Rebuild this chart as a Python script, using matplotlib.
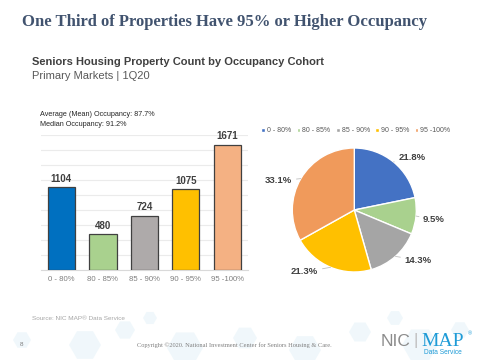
import matplotlib.pyplot as plt
from matplotlib.patches import RegularPolygon
import numpy as np

# data
cohorts = ['0 - 80%', '80 - 85%', '85 - 90%', '90 - 95%', '95 -100%']
counts = [1104, 480, 724, 1075, 1671]
shares = [21.8, 9.5, 14.3, 21.3, 33.1]
bar_colors = ['#0070C0', '#A9D18E', '#AEAAAA', '#FFC000', '#F4B183']
pie_colors = ['#4472C4', '#A9D18E', '#A5A5A5', '#FFC000', '#F09A5B']
mean_occ = 87.7
median_occ = 91.2

fig = plt.figure(figsize=(4.8, 3.6), dpi=100)
fig.patch.set_facecolor('white')

# faint hexagon background along the bottom
bg = fig.add_axes([0, 0, 1, 1], zorder=-10)
bg.set_xlim(0, 480)
bg.set_ylim(360, 0)
bg.axis('off')
for hx, hy, hr in [(85, 345, 16), (125, 330, 10), (185, 348, 18), (245, 338, 12),
                   (305, 350, 16), (360, 332, 11), (420, 345, 18), (22, 340, 9),
                   (395, 318, 8), (150, 318, 7), (460, 330, 9)]:
    bg.add_patch(RegularPolygon((hx, hy), 6, radius=hr, orientation=np.pi / 6,
                                facecolor='#EAF5FA', edgecolor='none', alpha=0.7))

# titles
title = fig.text(22 / 480, 1 - 22 / 360, 'One Third of Properties Have 95% or Higher Occupancy',
                 family='Liberation Serif', fontweight='bold', fontsize=13, color='#41536F',
                 va='center', ha='left')
# shrink title to reference width (~406 px)
fig.canvas.draw()
w = title.get_window_extent().width
title.set_fontsize(13 * 406 / w)

fig.text(32 / 480, 1 - 62 / 360, 'Seniors Housing Property Count by Occupancy Cohort',
         family='Liberation Sans', fontweight='bold', fontsize=8.0, color='#404040',
         va='center', ha='left')
fig.text(32 / 480, 1 - 76 / 360, 'Primary Markets | 1Q20',
         family='Liberation Sans', fontsize=8.0, color='#595959', va='center', ha='left')

# bar chart
ax = fig.add_axes([40.7 / 480, 1 - 270 / 360, 207.3 / 480, 135 / 360])
x = np.arange(len(cohorts))
ax.bar(x, counts, width=0.66, color=bar_colors, edgecolor='#404040', linewidth=0.9, zorder=3)
for xi, c in zip(x, counts):
    ax.text(xi, c + 45, str(c), ha='center', va='bottom', fontsize=7,
            fontweight='bold', color='#404040', family='Liberation Sans')
ax.set_xlim(-0.5, 4.5)
ax.set_ylim(0, 1800)
ax.set_yticks(np.arange(0, 1801, 200))
ax.yaxis.grid(True, color='#EBEBEB', linewidth=0.8, zorder=0)
ax.tick_params(axis='y', left=False, labelleft=False)
ax.set_xticks(x)
ax.set_xticklabels(cohorts, fontsize=5.6, color='#7F7F7F', family='Liberation Sans')
ax.tick_params(axis='x', length=0, pad=4)
for s in ['top', 'right', 'left']:
    ax.spines[s].set_visible(False)
ax.spines['bottom'].set_color('#D9D9D9')

fig.text(40 / 480, 1 - 115 / 360, f'Average (Mean) Occupancy: {mean_occ}%',
         fontsize=5.2, color='#262626', family='Liberation Sans', va='center')
fig.text(40 / 480, 1 - 125 / 360, f'Median Occupancy: {median_occ}%',
         fontsize=5.2, color='#262626', family='Liberation Sans', va='center')

# pie chart
r_px = 62
pax = fig.add_axes([(354.3 - r_px) / 480, 1 - (210 + r_px) / 360, 2 * r_px / 480, 2 * r_px / 360])
wedges, _ = pax.pie(shares, colors=pie_colors, startangle=90, counterclock=False,
                    wedgeprops=dict(edgecolor='white', linewidth=1.0))
pax.set_aspect('equal')
pax.set_xlim(-1, 1)
pax.set_ylim(-1, 1)

label_pos = [(0.71, 0.85), (1.11, -0.16), (0.81, -0.81), (-0.58, -1.0), (-1.0, 0.47)]
for w, (lx, ly), s in zip(wedges, label_pos, shares):
    ang = np.deg2rad((w.theta1 + w.theta2) / 2)
    ex, ey = np.cos(ang), np.sin(ang)
    ha = 'left' if lx > 0 else 'right'
    pax.annotate(f'{s}%', xy=(ex, ey), xytext=(lx, ly), ha=ha, va='center',
                 fontsize=6.8, fontweight='bold', color='#404040', family='Liberation Sans',
                 arrowprops=dict(arrowstyle='-', color='#BFBFBF', lw=0.6,
                                 shrinkA=1, shrinkB=0),
                 annotation_clip=False)

leg = fig.legend(wedges, cohorts, loc='center', bbox_to_anchor=(356 / 480, 1 - 131 / 360),
                 ncol=5, frameon=False, handlelength=0.5, handleheight=0.5,
                 handletextpad=0.3, columnspacing=0.8, prop={'family': 'Liberation Sans', 'size': 5})
for t in leg.get_texts():
    t.set_color('#595959')

# footer
fig.text(32 / 480, 1 - 319 / 360, 'Source: NIC MAP\u00ae Data Service',
         fontsize=4.6, color='#A6A6A6', family='Liberation Sans', va='center')
fig.text(20 / 480, 1 - 345 / 360, '8', fontsize=4.6, color='#7F7F7F',
         family='Liberation Sans', va='center')
fig.text(234 / 480, 1 - 345 / 360,
         'Copyright \u00a92020. National Investment Center for Seniors Housing & Care.',
         fontsize=4.6, color='#7F7F7F', family='Liberation Serif', va='center', ha='center')
fig.text(410 / 480, 1 - 341 / 360, 'NIC', fontsize=12.5, color='#8C8C8C',
         family='Liberation Sans', va='center', ha='right')
fig.text(416 / 480, 1 - 341 / 360, '|', fontsize=12, color='#BFBFBF',
         family='Liberation Sans', va='center', ha='center')
fig.text(421 / 480, 1 - 341 / 360, 'MAP', fontsize=14, color='#1E9BD7',
         family='Liberation Serif', va='center', ha='left')
fig.text(468 / 480, 1 - 334 / 360, '\u00ae', fontsize=4, color='#1E9BD7',
         family='Liberation Sans', va='center', ha='left')
fig.text(424 / 480, 1 - 353 / 360, 'Data Service', fontsize=4.8, color='#1E9BD7',
         family='Liberation Sans', va='center', ha='left')

fig.savefig('out.png', dpi=100, facecolor='white')
